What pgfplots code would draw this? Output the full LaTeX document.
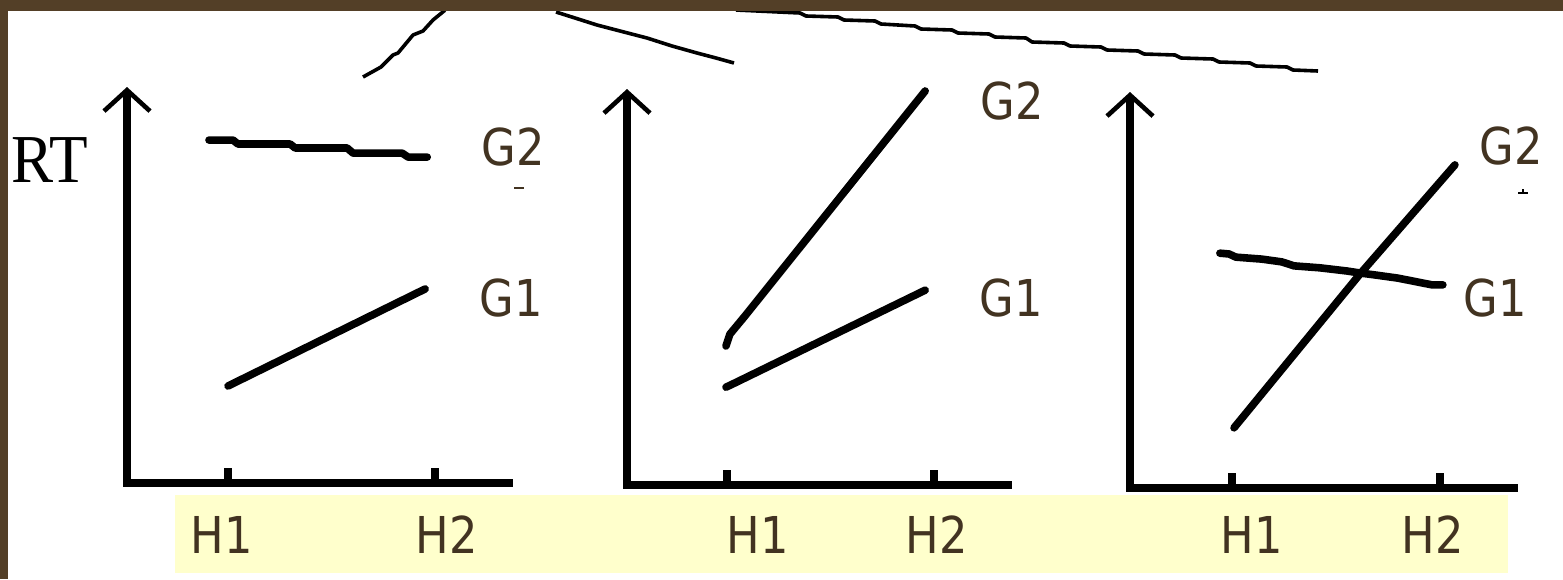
\documentclass[border=0pt]{standalone}
\usepackage{pgfplots}
\pgfplotsset{compat=1.18}
\usepackage{fontspec}
\setmainfont{DejaVu Sans}[FakeStretch=0.88]
\newfontfamily\rtfont{Liberation Serif}[FakeStretch=0.92]
\usetikzlibrary{arrows.meta}

\definecolor{frame}{RGB}{83,63,39}
\definecolor{ink}{RGB}{66,51,33}
\definecolor{strip}{RGB}{255,255,204}

\pgfplotsset{
  rtpanel/.style={
    scale only axis, height=198pt, anchor=south west, clip=false,
    axis lines*=left, enlargelimits=false,
    ymin=0, ymax=100, ytick=\empty,
    xtick={1,2}, xticklabels={,},
    tick align=inside, major tick length=7.5pt,
    major tick style={black, line width=3.7pt},
    x axis line style={black, line width=4pt, line cap=rect},
    y axis line style={black, line width=3.7pt,
      -{Straight Barb[length=10.5pt, width=23pt, line width=2.3pt]}},
  },
  rtline/.style={black, line width=3.8pt, line cap=round, line join=round, mark=none},
  scrap/.style={black, line width=1.8pt, line join=round, mark=none},
}

\begin{document}
\begin{tikzpicture}
  \useasboundingbox (0,0) rectangle (781.5pt,-289.5pt);
  \clip (0,0) rectangle (781.5pt,-289.5pt);

  % page, pixel grid: 1 unit = 0.5pt, y downwards
  \begin{scope}[x=0.5pt, y=-0.5pt]
    \fill[white] (0,0) rectangle (1563,579);
    \fill[strip] (175,495) rectangle (1508,573);
  \end{scope}

  % pieces of the figure above, cut by the slide edge
  \begin{axis}[at={(0pt,0pt)}, anchor=north west, scale only axis,
      width=781.5pt, height=289.5pt, xmin=0, xmax=1563, ymin=0, ymax=579,
      y dir=reverse, hide axis, clip=false]
    \addplot[scrap] coordinates {(363,77) (381,67) (393,55) (398,53) (413,35)
      (423,31) (433,20) (444,11) (448,5)};
    \addplot[scrap] coordinates {(556,12) (575,18) (597,25) (620,31) (647,38)
      (672,46) (697,53) (716,58) (734,63)};
    \addplot[scrap] coordinates {(736,10) (800,13) (806,16) (838,17) (844,20)
      (875,21) (881,24) (915,26) (921,29) (952,30) (958,33) (989,34) (995,37)
      (1026,38) (1032,42) (1064,43) (1070,46) (1101,47) (1107,50) (1138,51)
      (1144,54) (1175,55) (1181,58) (1213,59) (1219,62) (1250,63) (1256,66)
      (1287,67) (1293,70) (1318,71)};
  \end{axis}

  \begin{scope}[x=0.5pt, y=-0.5pt]
    \fill[frame] (0,0) rectangle (1563,10.5);
    \fill[frame] (0,0) rectangle (7.5,579);
  \end{scope}

  % left panel: G2 flat, G1 rising
  \begin{axis}[rtpanel, at={(63.5pt,-241.5pt)}, width=191pt,
      xmin=0.512, xmax=2.357]
    \addplot[rtline] coordinates {(0.908,86.6) (1.024,86.6) (1.048,85.6)
      (1.300,85.6) (1.324,84.6) (1.575,84.6) (1.604,83.3) (1.841,83.3)
      (1.870,82.3) (1.962,82.3)};
    \addplot[rtline] coordinates {(1.0,24.5) (1.952,49.0)};
  \end{axis}

  % middle panel: both rising, G2 steeper
  \begin{axis}[rtpanel, at={(313.5pt,-242.5pt)}, width=190.5pt,
      xmin=0.517, xmax=2.357]
    \addplot[rtline] coordinates {(0.995,35.1) (1.014,38.1) (1.087,42.7)
      (1.957,99.5)};
    \addplot[rtline] coordinates {(0.995,24.7) (1.039,25.8) (1.957,49.2)};
  \end{axis}

  % right panel: crossing lines
  \begin{axis}[rtpanel, at={(565pt,-244pt)}, width=192pt,
      xmin=0.510, xmax=2.356]
    \addplot[rtline] coordinates {(1.010,15.2) (1.615,54.0) (2.072,81.6)};
    \addplot[rtline] coordinates {(0.942,59.3) (0.986,59.1) (1.019,58.3)
      (1.144,57.8) (1.240,57.1) (1.298,56.1) (1.423,55.6) (1.553,54.8)
      (1.615,54.3) (1.688,53.8) (1.798,53.0) (1.894,52.0) (1.962,51.3)
      (2.014,51.3)};
  \end{axis}

  \begin{scope}[x=0.5pt, y=-0.5pt, every node/.style={inner sep=0pt, text=ink,
      font=\fontsize{25.4pt}{30pt}\selectfont}]
    \node[anchor=base west, text=black, font=\rtfont\fontsize{34.3pt}{40pt}\selectfont]
      at (11,182) {RT};
    % group labels
    \node[anchor=base] at (513,165) {G2};
    \node[anchor=base] at (511,316) {G1};
    \node[anchor=base] at (1012,119) {G2};
    \node[anchor=base] at (1011,316) {G1};
    \node[anchor=base] at (1511,164) {G2};
    \node[anchor=base] at (1495,316) {G1};
    % level labels
    \node[anchor=base] at (222,553) {H1};
    \node[anchor=base] at (447,553) {H2};
    \node[anchor=base] at (758,553) {H1};
    \node[anchor=base] at (937,553) {H2};
    \node[anchor=base] at (1252,553) {H1};
    \node[anchor=base] at (1433,553) {H2};
    % specks
    \draw[ink, line width=1.1pt] (514,188) -- (524,188);
    \draw[black, line width=1.1pt] (1518,193) -- (1528,193);
    \draw[black, line width=1pt] (1523,189) -- (1523,193);
  \end{scope}
\end{tikzpicture}
\end{document}
